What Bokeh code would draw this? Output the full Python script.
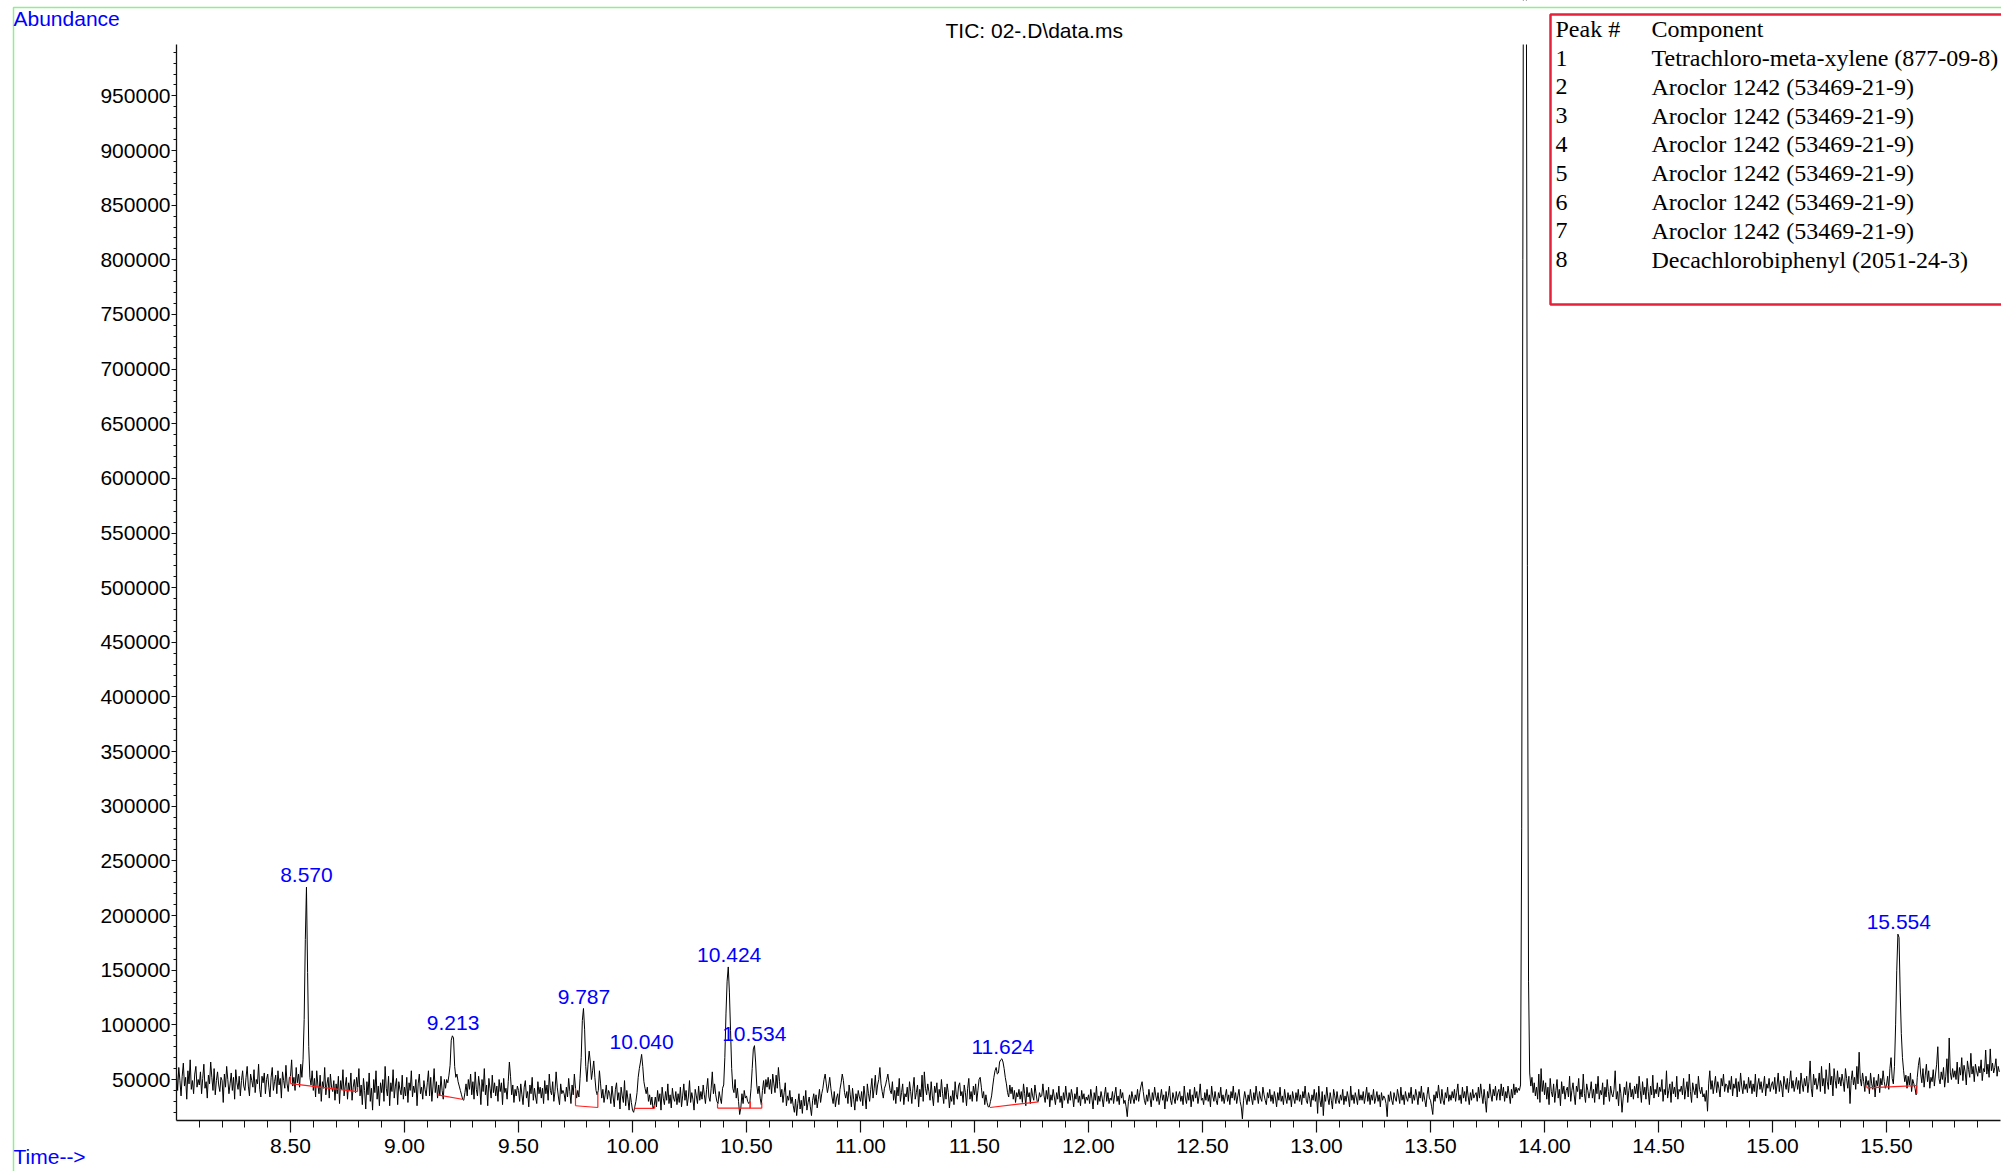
from bokeh.plotting import figure
from bokeh.models import (Range1d, FixedTicker, PrintfTickFormatter, BoxAnnotation,
                          Label, LabelSet, ColumnDataSource, LinearAxis)
from bokeh.embed import file_html
from bokeh.resources import INLINE
from bokeh.core.properties import value

# ---------------- data (abundance in thousands, one scan every 0.005 min from 8.000 min) ----
scan_start_min = 8.0
scan_step_min = 0.005
abundance_k_rows = [
    [56, 40, 61, 49, 35, 53, 65, 44, 52, 32, 58, 46, 68, 41, 49, 37, 55, 62, 43, 50],   # 8.0
    [45, 57, 37, 51, 64, 42, 48, 33, 54, 46, 66, 52, 40, 60, 36, 49, 57, 45, 39, 52],
    [49, 29, 55, 43, 62, 50, 37, 46, 56, 40, 52, 32, 59, 47, 41, 53, 35, 49, 58, 44],
    [40, 52, 62, 44, 35, 55, 49, 43, 59, 38, 50, 46, 64, 41, 34, 53, 47, 56, 37, 50],
    [55, 43, 34, 52, 61, 40, 48, 54, 37, 58, 45, 51, 33, 57, 49, 42, 63, 46, 39, 52],
    [53, 68, 44, 52, 40, 61, 47, 55, 43, 64, 52, 68, 105, 178, 226, 148, 80, 52, 45, 58],  # 8.5
    [40, 51, 34, 58, 45, 37, 54, 30, 48, 42, 61, 36, 46, 52, 33, 55, 43, 39, 49, 31],
    [46, 37, 53, 28, 49, 41, 59, 35, 44, 52, 32, 47, 40, 56, 31, 43, 50, 38, 52, 43],
    [60, 35, 45, 27, 51, 40, 23, 48, 36, 56, 30, 42, 22, 50, 38, 58, 32, 44, 26, 47],
    [38, 50, 30, 62, 42, 35, 53, 26, 47, 39, 59, 33, 44, 51, 27, 48, 41, 36, 54, 32],
    [43, 35, 52, 29, 47, 40, 58, 34, 44, 38, 50, 26, 46, 55, 37, 43, 32, 49, 41, 35],   # 9.0
    [47, 58, 35, 52, 30, 44, 60, 38, 48, 33, 45, 35, 53, 40, 32, 50, 42, 50, 47, 54],
    [63, 86, 90, 88, 62, 52, 55, 48, 44, 40, 36, 32, 31, 38, 46, 35, 50, 41, 55, 36],
    [48, 32, 57, 41, 35, 53, 44, 27, 50, 39, 60, 36, 45, 26, 51, 42, 33, 54, 38, 47],
    [35, 44, 30, 50, 39, 47, 27, 51, 38, 42, 32, 48, 66, 53, 36, 45, 29, 41, 35, 44],
    [40, 30, 46, 36, 27, 43, 49, 33, 39, 25, 45, 37, 52, 31, 42, 34, 28, 48, 37, 43],   # 9.5
    [33, 42, 28, 49, 37, 45, 31, 55, 40, 36, 48, 30, 39, 57, 43, 34, 27, 46, 37, 40],
    [37, 30, 43, 34, 51, 39, 28, 45, 36, 55, 42, 33, 40, 34, 51, 70, 104, 115, 96, 62],
    [48, 64, 76, 66, 50, 58, 67, 52, 40, 36, 40, 58, 46, 33, 41, 29, 36, 45, 32, 40],
    [37, 28, 44, 34, 25, 41, 47, 31, 38, 23, 43, 35, 29, 49, 26, 40, 32, 22, 37, 29],
    [22, 20, 25, 30, 38, 52, 60, 66, 73, 62, 48, 42, 37, 43, 30, 36, 27, 34, 23, 26],   # 10.0
    [34, 25, 40, 30, 37, 22, 43, 33, 27, 39, 31, 46, 28, 36, 24, 42, 33, 30, 39, 27],
    [37, 29, 43, 25, 35, 46, 31, 40, 26, 34, 49, 29, 38, 32, 22, 41, 35, 28, 44, 31],
    [39, 32, 45, 36, 28, 41, 51, 34, 30, 42, 57, 37, 46, 36, 30, 28, 39, 33, 28, 42],
    [45, 70, 110, 140, 153, 130, 95, 60, 42, 38, 50, 33, 42, 30, 18, 24, 37, 28, 40, 33],
    [35, 30, 28, 30, 42, 60, 78, 81, 66, 45, 37, 44, 33, 27, 40, 49, 37, 50, 43, 52],   # 10.5
    [41, 50, 37, 55, 46, 38, 54, 42, 61, 48, 34, 41, 29, 38, 47, 26, 35, 31, 40, 28],
    [34, 26, 20, 32, 17, 28, 37, 23, 31, 19, 35, 26, 40, 22, 29, 34, 25, 17, 31, 37],
    [27, 36, 24, 32, 41, 29, 37, 42, 50, 55, 46, 38, 44, 52, 42, 34, 28, 39, 25, 33],
    [37, 27, 41, 47, 55, 49, 38, 33, 39, 28, 45, 36, 25, 42, 32, 22, 37, 30, 40, 34],
    [30, 39, 26, 44, 34, 23, 46, 37, 30, 41, 51, 33, 42, 54, 36, 45, 50, 61, 46, 39],   # 11.0
    [33, 42, 45, 50, 55, 47, 40, 37, 48, 31, 40, 28, 43, 35, 51, 30, 38, 46, 27, 37],
    [34, 43, 30, 48, 39, 28, 42, 52, 32, 38, 45, 25, 41, 34, 54, 30, 57, 42, 36, 46],
    [39, 31, 48, 35, 26, 44, 38, 47, 29, 41, 34, 50, 37, 28, 43, 32, 46, 38, 24, 35],
    [30, 40, 27, 48, 36, 32, 44, 47, 35, 39, 29, 45, 38, 26, 42, 51, 32, 39, 30, 44],
    [36, 46, 30, 40, 50, 52, 43, 33, 39, 27, 36, 29, 25, 25, 30, 35, 44, 52, 58, 61],   # 11.5
    [55, 56, 66, 68, 69, 66, 60, 52, 46, 38, 34, 45, 37, 43, 32, 40, 29, 38, 34, 41],
    [32, 39, 29, 46, 37, 26, 43, 34, 38, 28, 42, 35, 31, 45, 37, 30, 30, 38, 34, 35],
    [46, 35, 29, 40, 32, 43, 25, 36, 31, 41, 34, 27, 38, 32, 44, 29, 35, 24, 38, 31],
    [44, 34, 28, 38, 31, 41, 35, 25, 37, 32, 43, 29, 35, 26, 40, 32, 37, 28, 34, 31],
    [36, 28, 41, 33, 23, 38, 31, 44, 27, 35, 30, 39, 33, 25, 36, 43, 30, 38, 28, 33],   # 12.0
    [31, 39, 28, 36, 43, 30, 35, 27, 41, 33, 38, 28, 31, 25, 16, 30, 36, 28, 39, 33],
    [28, 36, 31, 41, 30, 38, 44, 48, 39, 31, 27, 36, 30, 41, 33, 25, 38, 31, 43, 35],
    [30, 38, 27, 33, 41, 31, 36, 23, 39, 30, 35, 44, 31, 27, 38, 33, 28, 39, 31, 36],
    [39, 30, 35, 27, 44, 33, 28, 38, 31, 41, 25, 36, 30, 43, 33, 39, 28, 35, 46, 31],
    [33, 27, 38, 31, 41, 30, 36, 25, 44, 35, 30, 39, 31, 27, 38, 33, 43, 30, 36, 28],   # 12.5
    [35, 41, 30, 36, 27, 39, 33, 44, 31, 38, 28, 35, 41, 30, 25, 14, 31, 39, 33, 27],
    [36, 30, 41, 33, 27, 38, 31, 44, 35, 28, 39, 33, 30, 43, 36, 31, 27, 38, 33, 41],
    [30, 36, 28, 39, 33, 25, 38, 31, 43, 30, 35, 27, 41, 33, 28, 38, 31, 36, 25, 39],
    [33, 28, 38, 31, 41, 30, 36, 27, 39, 33, 44, 31, 28, 38, 33, 25, 36, 31, 41, 30],
    [38, 19, 44, 31, 25, 39, 17, 36, 30, 43, 33, 27, 38, 31, 23, 41, 35, 28, 39, 31],   # 13.0
    [28, 36, 31, 41, 27, 35, 30, 39, 33, 25, 44, 31, 36, 28, 38, 33, 27, 41, 31, 36],
    [31, 39, 28, 35, 43, 30, 38, 27, 36, 31, 41, 28, 33, 39, 30, 36, 25, 38, 31, 35],
    [33, 28, 16, 36, 30, 39, 31, 27, 38, 33, 30, 41, 35, 28, 43, 31, 36, 27, 39, 33],
    [30, 38, 33, 43, 28, 36, 31, 41, 35, 27, 39, 33, 44, 30, 38, 31, 25, 36, 43, 33],
    [31, 25, 18, 36, 30, 39, 33, 45, 35, 28, 41, 31, 27, 38, 33, 43, 30, 36, 31, 39],   # 13.5
    [33, 41, 30, 38, 46, 31, 36, 28, 43, 33, 39, 30, 44, 35, 27, 38, 31, 41, 33, 36],
    [38, 30, 43, 33, 46, 36, 28, 41, 31, 20, 39, 33, 46, 36, 30, 41, 35, 44, 31, 38],
    [41, 31, 46, 35, 43, 30, 39, 33, 44, 36, 28, 41, 33, 46, 36, 43, 38, 42, 40, 45],
    [280, 800, 1350, 1450, 1100, 520, 140, 56, 44, 52, 38, 47, 35, 43, 32, 55, 29, 60, 39, 49],
    [36, 47, 32, 43, 27, 51, 39, 34, 46, 29, 40, 50, 33, 41, 26, 48, 37, 44, 32, 40],   # 14.0
    [43, 34, 53, 30, 40, 47, 36, 27, 44, 39, 51, 32, 41, 34, 55, 37, 29, 46, 40, 33],
    [39, 48, 33, 41, 29, 46, 37, 53, 32, 40, 36, 47, 27, 43, 34, 50, 39, 30, 44, 37],
    [34, 41, 58, 32, 39, 26, 46, 37, 20, 33, 43, 36, 48, 29, 40, 47, 34, 41, 32, 44],
    [37, 46, 33, 53, 40, 29, 48, 36, 43, 32, 51, 39, 27, 44, 36, 54, 33, 41, 37, 47],
    [34, 43, 39, 50, 30, 41, 36, 58, 33, 40, 46, 29, 48, 37, 43, 34, 53, 32, 41, 39],   # 14.5
    [44, 36, 51, 32, 41, 48, 34, 55, 39, 29, 47, 40, 36, 46, 33, 53, 41, 37, 43, 34],
    [37, 30, 40, 21, 46, 58, 41, 49, 37, 45, 53, 38, 48, 42, 34, 51, 44, 55, 39, 46],
    [45, 38, 49, 41, 53, 35, 46, 42, 51, 34, 48, 39, 56, 44, 37, 49, 41, 46, 38, 52],
    [42, 49, 37, 46, 39, 55, 34, 45, 51, 41, 48, 38, 44, 53, 35, 46, 42, 51, 39, 45],
    [48, 41, 52, 37, 45, 56, 39, 49, 44, 34, 53, 46, 41, 51, 38, 48, 58, 42, 49, 39],   # 15.0
    [45, 52, 41, 49, 37, 56, 46, 39, 51, 44, 53, 38, 48, 67, 42, 34, 55, 45, 51, 41],
    [46, 56, 39, 62, 44, 51, 37, 59, 48, 41, 65, 45, 53, 35, 60, 49, 42, 58, 46, 52],
    [44, 55, 48, 39, 60, 51, 42, 53, 28, 49, 58, 45, 52, 41, 62, 46, 75, 51, 44, 56],
    [48, 39, 53, 45, 49, 37, 56, 46, 41, 52, 34, 49, 44, 55, 38, 51, 45, 58, 48, 42],
    [45, 53, 41, 60, 70, 51, 46, 62, 100, 150, 183, 180, 130, 92, 70, 58, 48, 54, 42, 53],  # 15.5
    [45, 56, 39, 50, 46, 42, 36, 52, 63, 70, 55, 47, 60, 43, 54, 64, 48, 58, 42, 52],
    [48, 59, 44, 55, 64, 80, 51, 46, 57, 50, 61, 43, 53, 69, 47, 88, 56, 50, 60, 52],
    [58, 50, 66, 46, 61, 54, 70, 49, 63, 57, 45, 67, 59, 52, 74, 55, 62, 48, 64, 58],
    [53, 62, 56, 68, 49, 60, 57, 77, 55, 64, 52, 78, 58, 65, 56, 61, 69, 53, 62, 57],
]

# labelled peaks
peak_rt = [8.570, 9.213, 9.787, 10.040, 10.424, 10.534, 11.624, 15.554]
peak_height = [226000, 90300, 114700, 73500, 152800, 81000, 69000, 183000]

# integration baselines (red)
base_t0 = [8.500, 9.145, 9.750, 10.009, 10.373, 10.516, 11.568, 15.414]
base_v0 = [46300, 36000, 26000, 23600, 23800, 23800, 24400, 42400]
base_t1 = [8.794, 9.259, 9.848, 10.097, 10.516, 10.567, 11.781, 15.633]
base_v1 = [39000, 31700, 24400, 23600, 23800, 23800, 29600, 44500]
drop0_top = [52700, 36000, 42000, 24500, 28400, 30000, 24400, 45000]
drop1_top = [43000, 31700, 38000, 26500, 30000, 29000, 29600, 37000]

# legend table
legend_peak_no = ["1", "2", "3", "4", "5", "6", "7", "8"]
legend_component = [
    "Tetrachloro-meta-xylene (877-09-8)",
    "Aroclor 1242 (53469-21-9)",
    "Aroclor 1242 (53469-21-9)",
    "Aroclor 1242 (53469-21-9)",
    "Aroclor 1242 (53469-21-9)",
    "Aroclor 1242 (53469-21-9)",
    "Aroclor 1242 (53469-21-9)",
    "Decachlorobiphenyl (2051-24-3)",
]

# axis ticks
x_major_ticks = [8.5, 9.0, 9.5, 10.0, 10.5, 11.0, 11.5, 12.0, 12.5, 13.0, 13.5, 14.0, 14.5, 15.0, 15.5]
y_major_ticks = [50000 * k for k in range(1, 20)]

# ---------------- build ----------------
abundance_k = [v for row in abundance_k_rows for v in row]
abundance = [v * 1000 for v in abundance_k]
time_min = [scan_start_min + scan_step_min * i for i in range(len(abundance))]

W, H = 2001, 1171
X0, X_END = 8.0, 16.0          # x axis extent (min)
Y0, Y1 = 12500, 997000         # y axis extent
AX_L, AX_B, AX_T = 176, 1120, 44   # page pixels of x=8.0, y=Y0, y=Y1
PX_PER_MIN = 228.0
PX_PER_UNIT = (AX_B - AX_T) / (Y1 - Y0)
LABEL_SHIFT = 9                # single Labels sit this many px low at an alphabetic baseline


def xd(px):
    return X0 + (px - AX_L) / PX_PER_MIN


def yd(py):
    return Y0 + (AX_B - py) / PX_PER_UNIT


def ylab(py):
    return yd(py - LABEL_SHIFT)


p = figure(width=W, height=H, x_range=Range1d(xd(0), xd(W)), y_range=Range1d(yd(H), yd(0)),
           output_backend="svg", toolbar_location=None,
           x_axis_location=None, y_axis_location=None, min_border=0)
p.outline_line_color = None
p.xgrid.visible = False
p.ygrid.visible = False
p.background_fill_color = "white"
p.border_fill_color = "white"

FONT = "Liberation Sans"

xa = LinearAxis(fixed_location=Y0, bounds=(X0, X_END))
xa.ticker = FixedTicker(ticks=x_major_ticks,
                        minor_ticks=[round(8.0 + 0.1 * i, 1) for i in range(1, 80) if i % 5])
xa.formatter = PrintfTickFormatter(format="%.2f")
xa.major_tick_out = 12
xa.major_tick_in = 0
xa.minor_tick_out = 7
xa.minor_tick_in = 0
xa.major_label_standoff = 6
ya = LinearAxis(fixed_location=X0, bounds=(Y0, Y1))
ya.ticker = FixedTicker(ticks=y_major_ticks,
                        minor_ticks=[v for v in range(20000, 1000000, 10000) if v % 50000])
ya.formatter = PrintfTickFormatter(format="%d")
ya.major_tick_out = 5
ya.major_tick_in = 0
ya.minor_tick_out = 3
ya.minor_tick_in = 0
ya.major_label_standoff = 1
for ax in (xa, ya):
    ax.axis_line_color = "#111111"
    ax.axis_line_width = 1.3
    ax.major_tick_line_color = "#111111"
    ax.minor_tick_line_color = "#111111"
    ax.major_tick_line_width = 1.2
    ax.minor_tick_line_width = 1.0
    ax.major_label_text_font = FONT
    ax.major_label_text_font_size = "21px"
    ax.major_label_text_color = "black"
p.add_layout(xa, "below")
p.add_layout(ya, "left")

# trace
p.line(time_min, abundance, line_color="black", line_width=1.0)

# the trace is cut at the top of the abundance axis
p.add_layout(BoxAnnotation(bottom=Y1, left=13.5, right=14.3, fill_color="white", fill_alpha=1.0,
                           line_color=None))

# integration baselines
red = "#FF1E1E"
p.segment(base_t0, base_v0, base_t1, base_v1, line_color=red, line_width=1.2)
p.segment(base_t0, base_v0, base_t0, drop0_top, line_color=red, line_width=1.2)
p.segment(base_t1, base_v1, base_t1, drop1_top, line_color=red, line_width=1.2)

# peak labels
src = ColumnDataSource(dict(x=peak_rt, y=peak_height, text=[f"{t:.3f}" for t in peak_rt]))
p.add_layout(LabelSet(x="x", y="y", text="text", source=src, text_align="center",
                      text_baseline="alphabetic", y_offset=5, text_color="#0000FF",
                      text_font=value(FONT), text_font_size="21px"))

# green outer frame
p.add_layout(BoxAnnotation(left=xd(13), right=xd(2400), top=yd(7), bottom=yd(1500),
                           fill_color=None, fill_alpha=0, line_color="#90EE90",
                           line_alpha=1.0, line_width=1.5))

# texts
p.add_layout(Label(x=xd(13), y=ylab(27), text="Abundance", text_color="#0000FF",
                   text_font=FONT, text_font_size="21px", text_baseline="alphabetic"))
p.add_layout(Label(x=xd(13), y=ylab(1165), text="Time-->", text_color="#0000FF",
                   text_font=FONT, text_font_size="21px", text_baseline="alphabetic"))
p.add_layout(Label(x=xd(945), y=ylab(39), text="TIC: 02-.D\\data.ms", text_color="black",
                   text_font=FONT, text_font_size="21px", text_baseline="alphabetic"))

# legend box
p.add_layout(BoxAnnotation(left=xd(1550), right=xd(2400), top=yd(14), bottom=yd(304),
                           fill_color=None, fill_alpha=0, line_color="#E5213C",
                           line_alpha=1.0, line_width=2.5))
SERIF = "Liberation Serif"
rows = [("Peak #", "Component")] + list(zip(legend_peak_no, legend_component))
for k, (a, b) in enumerate(rows):
    yy = ylab(37.7 + 28.8 * k)
    p.add_layout(Label(x=xd(1555), y=yy, text=a, text_font=SERIF, text_font_size="24px",
                       text_color="black", text_baseline="alphabetic"))
    p.add_layout(Label(x=xd(1651), y=yy, text=b, text_font=SERIF, text_font_size="24px",
                       text_color="black", text_baseline="alphabetic"))

open("out.html", "w").write(file_html(p, INLINE))
